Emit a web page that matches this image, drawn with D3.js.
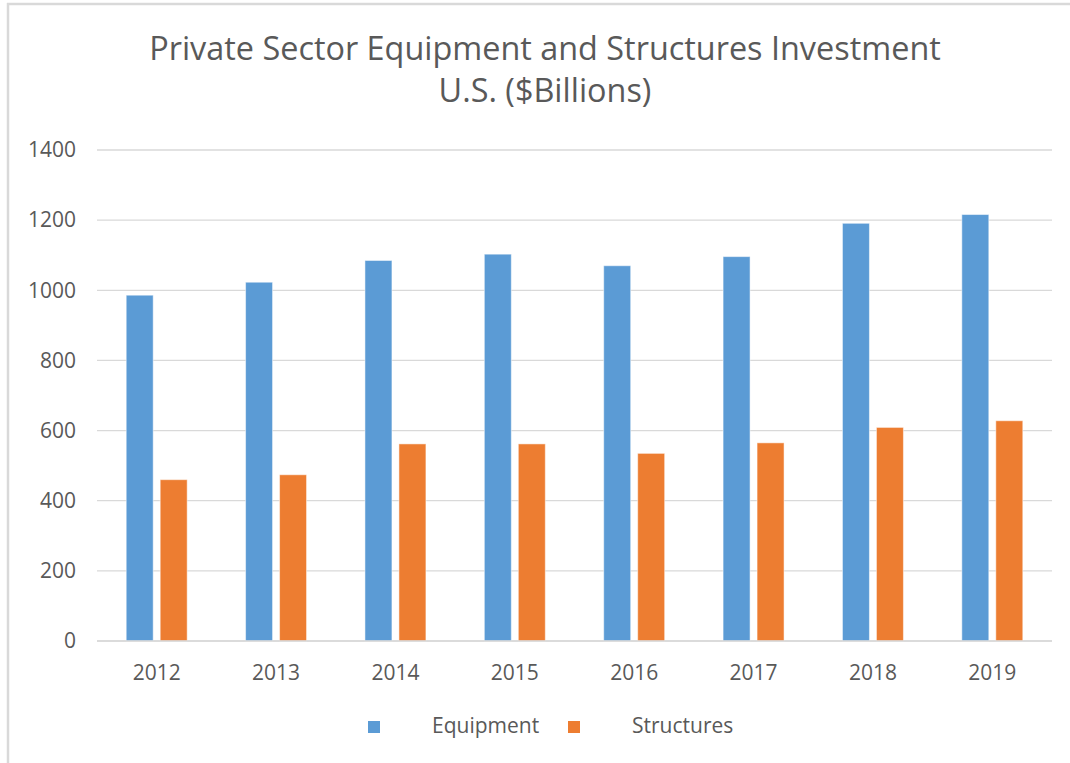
<!DOCTYPE html>
<html>
<head>
<meta charset="utf-8">
<script src="https://cdn.jsdelivr.net/npm/d3@7"></script>
<style>
  body { margin: 0; background: #fff; }
  text { font-family: "Open Sans", "Liberation Sans", sans-serif; fill: #595959; }
</style>
</head>
<body>
<div id="chart"></div>
<script>
// Chart data
var years = ["2012", "2013", "2014", "2015", "2016", "2017", "2018", "2019"];
var seriesNames = ["Equipment", "Structures"];
var equipment = [986, 1023, 1085, 1103, 1070, 1096, 1191, 1216];
var structures = [460, 474, 562, 562, 535, 565, 609, 628];
var yTicks = [0, 200, 400, 600, 800, 1000, 1200, 1400];
var colors = ["#5B9BD5", "#ED7D31"];

// SVG area
var svgWidth = 1070;
var svgHeight = 763;

var margin = { top: 150, right: 18, bottom: 122, left: 97 };
var chartWidth = svgWidth - margin.left - margin.right;
var chartHeight = svgHeight - margin.top - margin.bottom;

var svg = d3.select("#chart")
  .append("svg")
  .attr("width", svgWidth)
  .attr("height", svgHeight);

// light frame on top and left
svg.append("line")
  .attr("x1", 7).attr("x2", svgWidth).attr("y1", 4).attr("y2", 4)
  .attr("stroke", "#d9d9d9").attr("stroke-width", 2.5);
svg.append("line")
  .attr("x1", 8).attr("x2", 8).attr("y1", 3).attr("y2", svgHeight)
  .attr("stroke", "#d9d9d9").attr("stroke-width", 2.5);

// Title
var title = svg.append("text")
  .attr("text-anchor", "middle")
  .attr("font-size", 32.4);
title.append("tspan").attr("x", 545).attr("y", 60)
  .text("Private Sector Equipment and Structures Investment");
title.append("tspan").attr("x", 545).attr("y", 102)
  .text("U.S. ($Billions)");

var chartGroup = svg.append("g")
  .attr("transform", `translate(${margin.left}, ${margin.top})`);

// Scales
var x0 = d3.scaleBand()
  .domain(years)
  .range([0, chartWidth]);

var groupPad = 29.2;
var x1 = d3.scaleBand()
  .domain(seriesNames)
  .range([groupPad, x0.bandwidth() - groupPad])
  .paddingInner(0.206);

var yScale = d3.scaleLinear()
  .domain([0, 1400])
  .range([chartHeight, 0]);

// Gridlines
chartGroup.append("g")
  .selectAll("line")
  .data(yTicks)
  .enter()
  .append("line")
  .attr("x1", 0)
  .attr("x2", chartWidth)
  .attr("y1", d => yScale(d))
  .attr("y2", d => yScale(d))
  .attr("stroke", "#d9d9d9")
  .attr("stroke-width", 1.3);

// Left axis labels
var leftAxis = d3.axisLeft(yScale)
  .tickValues(yTicks)
  .tickFormat(d3.format("d"))
  .tickSize(0)
  .tickPadding(21);
chartGroup.append("g")
  .call(leftAxis)
  .call(g => g.select(".domain").remove())
  .selectAll("text")
  .attr("font-size", 21)
  .attr("fill", "#595959")
  .style("font-family", "\"Open Sans\", sans-serif");

// Bars
var seriesData = [equipment, structures];
var groups = chartGroup.selectAll(".year")
  .data(years)
  .enter()
  .append("g")
  .attr("class", "year")
  .attr("transform", d => `translate(${x0(d)}, 0)`);

groups.selectAll("rect")
  .data((d, i) => seriesNames.map((s, j) => ({ series: s, value: seriesData[j][i], color: colors[j] })))
  .enter()
  .append("rect")
  .attr("x", d => x1(d.series))
  .attr("y", d => yScale(d.value))
  .attr("width", x1.bandwidth())
  .attr("height", d => chartHeight - yScale(d.value))
  .attr("fill", d => d.color)
  .attr("stroke", "#ffffff")
  .attr("stroke-opacity", 0.5)
  .attr("stroke-width", 1);

// redraw zero line over bars
chartGroup.append("line")
  .attr("x1", 0).attr("x2", chartWidth)
  .attr("y1", yScale(0)).attr("y2", yScale(0))
  .attr("stroke", "#d9d9d9").attr("stroke-width", 1.3);

// Bottom axis labels
var bottomAxis = d3.axisBottom(x0).tickSize(0).tickPadding(24);
chartGroup.append("g")
  .attr("transform", `translate(0, ${chartHeight})`)
  .call(bottomAxis)
  .call(g => g.select(".domain").remove())
  .selectAll("text")
  .attr("font-size", 21)
  .attr("fill", "#595959")
  .style("font-family", "\"Open Sans\", sans-serif");

// Legend
var legendItems = [
  { name: "Equipment", color: colors[0], sx: 368, tx: 432 },
  { name: "Structures", color: colors[1], sx: 568, tx: 632 }
];
var legend = svg.append("g");
legend.selectAll("rect")
  .data(legendItems)
  .enter()
  .append("rect")
  .attr("x", d => d.sx)
  .attr("y", 721)
  .attr("width", 12)
  .attr("height", 12)
  .attr("fill", d => d.color);
legend.selectAll("text")
  .data(legendItems)
  .enter()
  .append("text")
  .attr("x", d => d.tx)
  .attr("y", 733)
  .attr("font-size", 21)
  .text(d => d.name);
</script>
</body>
</html>
